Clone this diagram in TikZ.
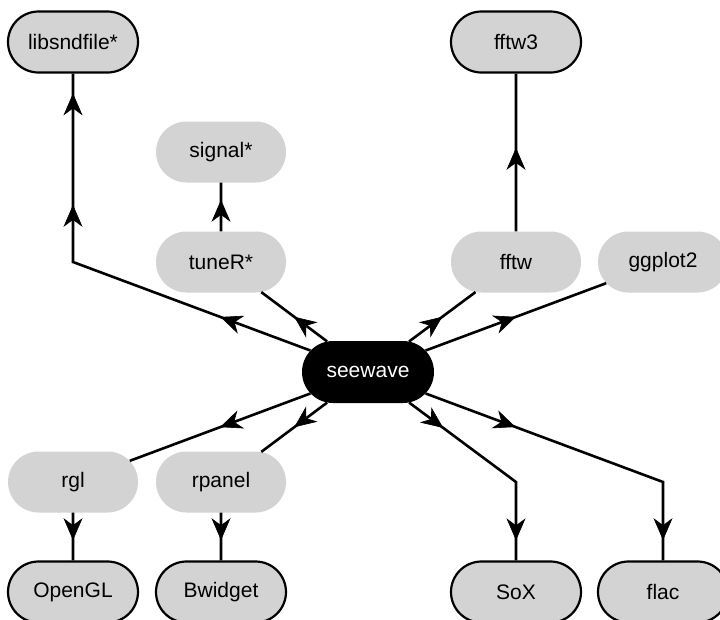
\documentclass[tikz,border=0pt]{standalone}
\usepackage{fontspec}
\setmainfont{Liberation Sans}
\usetikzlibrary{shapes.misc,arrows.meta,decorations.markings}
\definecolor{nodegray}{HTML}{D3D3D3}
\newcommand{\midtip}{\arrow[line width=0.6pt]{Stealth[length=22pt,width=19pt,inset=7pt]}}
\tikzset{
  pkg/.style={rounded rectangle, minimum width=130pt, minimum height=61pt, inner sep=0pt,
    fill=nodegray, font=\fontsize{21}{24}\selectfont},
  sysdep/.style={pkg, draw=black, line width=2.2pt},
  mainpkg/.style={pkg, fill=black, text=white, minimum width=132pt, minimum height=62pt},
  edge/.style={line width=2.6pt, line join=miter},
  arrat/.style={postaction={decorate, decoration={markings, mark=at position #1 with {\midtip}}}},
  arrtwo/.style 2 args={postaction={decorate, decoration={markings,
      mark=at position #1 with {\midtip}, mark=at position #2 with {\midtip}}}},
  arrthree/.style n args={3}{postaction={decorate, decoration={markings,
      mark=at position #1 with {\midtip}, mark=at position #2 with {\midtip},
      mark=at position #3 with {\midtip}}}},
}
\begin{document}
\begin{tikzpicture}[x=1pt,y=-1pt]
\useasboundingbox (0,0) rectangle (720,619);
\clip (0,0) rectangle (720,619);
% nodes
\node[sysdep] (libsndfile) at (73,42) {libsndfile*};
\node[sysdep] (fftw3) at (516,42) {fftw3};
\node[pkg] (signal) at (221,152) {signal*};
\node[pkg] (tuneR) at (221,262) {tuneR*};
\node[pkg] (fftw) at (516,262) {fftw};
\node[pkg] (ggplot2) at (663,262) {ggplot2};
\node[mainpkg] (seewave) at (368,372) {seewave};
\node[pkg] (rgl) at (73,482) {rgl};
\node[pkg] (rpanel) at (221,482) {rpanel};
\node[sysdep] (OpenGL) at (73,592) {OpenGL};
\node[sysdep] (Bwidget) at (221,592) {Bwidget};
\node[sysdep] (SoX) at (516,592) {SoX};
\node[sysdep] (flac) at (663,592) {flac};
% bend points
\coordinate (b1) at (73,262);
\coordinate (b2) at (516,482);
\coordinate (b3) at (663,482);
% edges
\draw[edge, arrthree={96pt}{310.5pt}{422pt}] (seewave) -- (b1) -- (libsndfile);
\draw[edge, arrat=0.5] (seewave) -- (tuneR);
\draw[edge, arrat=31.5pt] (tuneR) -- (signal);
\draw[edge, arrat=83.5pt] (fftw) -- (fftw3);
\draw[edge, arrat=0.5] (seewave) -- (fftw);
\draw[edge, arrat=0.5] (seewave) -- (ggplot2);
\draw[edge, arrat=0.5] (seewave) -- (rgl);
\draw[edge, arrat=0.5] (seewave) -- (rpanel);
\draw[edge, arrat=27.5pt] (rgl) -- (OpenGL);
\draw[edge, arrat=27.5pt] (rpanel) -- (Bwidget);
\draw[edge, arrtwo={42.5pt}{191.5pt}] (seewave) -- (b2) -- (SoX);
\draw[edge, arrtwo={96pt}{311.5pt}] (seewave) -- (b3) -- (flac);
\end{tikzpicture}
\end{document}
